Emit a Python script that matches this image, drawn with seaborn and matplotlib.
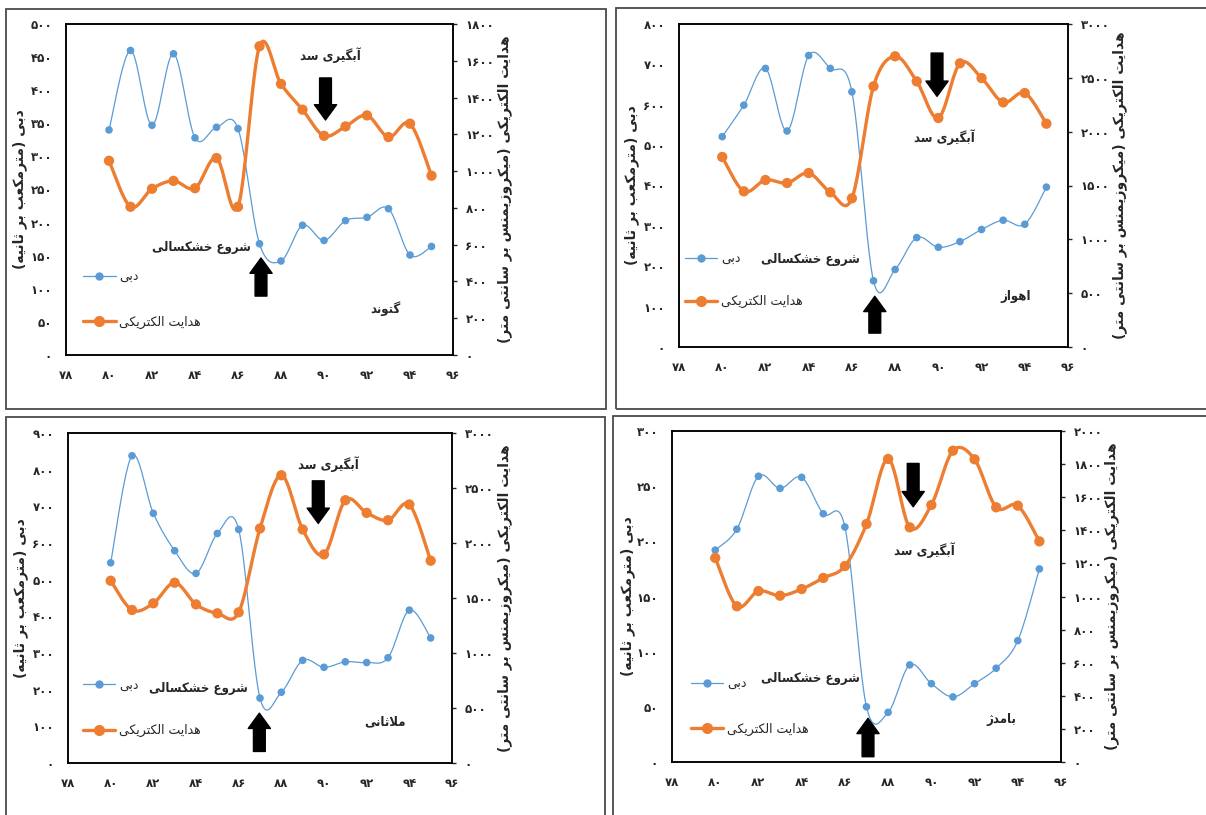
import numpy as np
import pandas as pd
import matplotlib
matplotlib.use("Agg")
import matplotlib.pyplot as plt
from matplotlib.patches import Rectangle
from matplotlib.lines import Line2D
from matplotlib import font_manager
import seaborn as sns

# ---------------- data ----------------
years = [80, 81, 82, 83, 84, 85, 86, 87, 88, 89, 90, 91, 92, 93, 94, 95]

gotvand_q = [340, 460, 347, 455, 328, 344, 342, 168, 142, 196, 173, 203, 208, 221, 151, 164]
gotvand_ec = [1056, 806, 904, 947, 907, 1071, 806, 1679, 1474, 1334, 1192, 1243, 1303, 1185, 1258, 975]

ahvaz_q = [521, 599, 690, 535, 722, 690, 632, 164, 192, 271, 247, 261, 291, 314, 304, 396]
ahvaz_ec = [1765, 1446, 1551, 1523, 1616, 1437, 1381, 2421, 2700, 2467, 2127, 2635, 2498, 2272, 2359, 2074]

mollasani_q = [546, 838, 681, 579, 517, 626, 637, 177, 193, 280, 261, 276, 274, 287, 417, 341]
mollasani_ec = [1657, 1391, 1452, 1639, 1442, 1361, 1370, 2132, 2616, 2123, 1896, 2389, 2274, 2207, 2350, 1839]

bamdezh_q = [192, 211, 259, 248, 258, 225, 213, 50, 45, 88, 71, 59, 71, 85, 110, 175]
bamdezh_ec = [1233, 941, 1033, 1005, 1045, 1112, 1184, 1438, 1831, 1418, 1553, 1881, 1829, 1539, 1549, 1333]

x_ticks = [78, 80, 82, 84, 86, 88, 90, 92, 94, 96]
gotvand_q_ticks = [0, 50, 100, 150, 200, 250, 300, 350, 400, 450, 500]
gotvand_ec_ticks = [0, 200, 400, 600, 800, 1000, 1200, 1400, 1600, 1800]
ahvaz_q_ticks = [0, 100, 200, 300, 400, 500, 600, 700, 800]
ahvaz_ec_ticks = [0, 500, 1000, 1500, 2000, 2500, 3000]
mollasani_q_ticks = [0, 100, 200, 300, 400, 500, 600, 700, 800, 900]
mollasani_ec_ticks = [0, 500, 1000, 1500, 2000, 2500, 3000]
bamdezh_q_ticks = [0, 50, 100, 150, 200, 250, 300]
bamdezh_ec_ticks = [0, 200, 400, 600, 800, 1000, 1200, 1400, 1600, 1800, 2000]

label_q = "دبی"
label_ec = "هدایت الکتریکی"
ylabel_left = "دبی (مترمکعب بر ثانیه)"
ylabel_right = "هدایت الکتریکی (میکروزیمنس بر سانتی متر)"
txt_drought = "شروع خشکسالی"
txt_dam = "آبگیری سد"
stations = ["گتوند", "اهواز", "ملاثانی", "بامدژ"]

# ---------------- Arabic/Persian shaping helpers ----------------
FORMS = {
    '\u0627': ('\uFE8D', '\uFE8E', None, None),
    '\u0622': ('\uFE81', '\uFE82', None, None),
    '\u0628': ('\uFE8F', '\uFE90', '\uFE91', '\uFE92'),
    '\u062A': ('\uFE95', '\uFE96', '\uFE97', '\uFE98'),
    '\u062B': ('\uFE99', '\uFE9A', '\uFE9B', '\uFE9C'),
    '\u062E': ('\uFEA5', '\uFEA6', '\uFEA7', '\uFEA8'),
    '\u062F': ('\uFEA9', '\uFEAA', None, None),
    '\u0631': ('\uFEAD', '\uFEAE', None, None),
    '\u0632': ('\uFEAF', '\uFEB0', None, None),
    '\u0698': ('\uFB8A', '\uFB8B', None, None),
    '\u0633': ('\uFEB1', '\uFEB2', '\uFEB3', '\uFEB4'),
    '\u0634': ('\uFEB5', '\uFEB6', '\uFEB7', '\uFEB8'),
    '\u0639': ('\uFEC9', '\uFECA', '\uFECB', '\uFECC'),
    '\u0644': ('\uFEDD', '\uFEDE', '\uFEDF', '\uFEE0'),
    '\u0645': ('\uFEE1', '\uFEE2', '\uFEE3', '\uFEE4'),
    '\u0646': ('\uFEE5', '\uFEE6', '\uFEE7', '\uFEE8'),
    '\u0647': ('\uFEE9', '\uFEEA', '\uFEEB', '\uFEEC'),
    '\u0648': ('\uFEED', '\uFEEE', None, None),
    '\u06A9': ('\uFB8E', '\uFB8F', '\uFB90', '\uFB91'),
    '\u06AF': ('\uFB92', '\uFB93', '\uFB94', '\uFB95'),
    '\u06CC': ('\uFBFC', '\uFBFD', '\uFBFE', '\uFBFF'),
}


def shape(s):
    tokens = []
    i = 0
    while i < len(s):
        c = s[i]
        if c == '\u0644' and i + 1 < len(s) and s[i + 1] in ('\u0627', '\u0622'):
            tokens.append('LA' if s[i + 1] == '\u0627' else 'LAM')
            i += 2
        else:
            tokens.append(c)
            i += 1

    def joins_next(t):
        return t in FORMS and FORMS[t][2] is not None

    def is_ar(t):
        return t in FORMS or t in ('LA', 'LAM')

    res = []
    for k, t in enumerate(tokens):
        prev = tokens[k - 1] if k > 0 else None
        nxt = tokens[k + 1] if k + 1 < len(tokens) else None
        cp = prev is not None and joins_next(prev)
        if t in ('LA', 'LAM'):
            iso, fin = ('\uFEFB', '\uFEFC') if t == 'LA' else ('\uFEF5', '\uFEF6')
            res.append(fin if cp else iso)
            continue
        if t not in FORMS:
            res.append(t)
            continue
        cn = joins_next(t) and nxt is not None and is_ar(nxt)
        f = FORMS[t]
        if cp and cn:
            res.append(f[3])
        elif cp:
            res.append(f[1])
        elif cn:
            res.append(f[2])
        else:
            res.append(f[0])
    return ''.join(res)


def fa(s):
    return shape(s)[::-1].translate({ord('('): ')', ord(')'): '('})


def fa_num(n):
    return str(n).translate(str.maketrans('0123456789', '۰۱۲۳۴۵۶۷۸۹'))


def smooth(x, y, n=24):
    x = np.asarray(x, float)
    y = np.asarray(y, float)
    px = np.concatenate([[x[0]], x, [x[-1]]])
    py = np.concatenate([[y[0]], y, [y[-1]]])
    t = np.linspace(0, 1, n, endpoint=False)
    xs, ys = [], []
    for i in range(1, len(px) - 2):
        for arr, out in ((px, xs), (py, ys)):
            p0, p1, p2, p3 = arr[i - 1], arr[i], arr[i + 1], arr[i + 2]
            out.extend(0.5 * ((2 * p1) + (-p0 + p2) * t
                              + (2 * p0 - 5 * p1 + 4 * p2 - p3) * t ** 2
                              + (-p0 + 3 * p1 - 3 * p2 + p3) * t ** 3))
    xs.append(x[-1])
    ys.append(y[-1])
    return np.array(xs), np.array(ys)


# ---------------- style ----------------
sns.set_style("white")
plt.rcParams['font.family'] = ['DejaVu Sans']

has_cond = any('condensed' in f.fname.lower() and 'dejavusans' in f.fname.lower().replace('-', '').replace('_', '')
               for f in font_manager.fontManager.ttflist)
ANN = dict(family='DejaVu Sans', stretch='condensed', fontweight='bold',
           fontsize=(11 if has_cond else 9.5) * 0.86)

BLUE = '#5B9BD5'
ORANGE = '#ED7D31'
W, H = 1206, 815

fig = plt.figure(figsize=(W / 100, H / 100), dpi=100)


def fig_rect(l, t, r, b):
    return [l / W, 1 - b / H, (r - l) / W, (b - t) / H]


panels = [
    dict(rect=fig_rect(66, 24, 453, 355), q=gotvand_q, ec=gotvand_ec,
         qt=gotvand_q_ticks, et=gotvand_ec_ticks, name=stations[0],
         up=(87.07, 0.293, 0.178), down=(90.07, 0.71, 0.837),
         dam=(90.3, 0.906), dr=(86.6, 0.326), st=(92.84, 0.139),
         leg=(0.044, 0.236, 0.10), box=(6, 9, 606, 409),
         ylx=20, yrx=505),
    dict(rect=fig_rect(679, 24, 1068, 347), q=ahvaz_q, ec=ahvaz_ec,
         qt=ahvaz_q_ticks, et=ahvaz_ec_ticks, name=stations[1],
         up=(87.06, 0.157, 0.043), down=(89.94, 0.776, 0.91),
         dam=(90.3, 0.65), dr=(86.38, 0.272), st=(93.6, 0.155),
         leg=(0.015, 0.272, 0.141), box=(616, 8, 1215, 409),
         ylx=632, yrx=1120),
    dict(rect=fig_rect(68, 433, 452, 763), q=mollasani_q, ec=mollasani_ec,
         qt=mollasani_q_ticks, et=mollasani_ec_ticks, name=stations[2],
         up=(86.97, 0.151, 0.035), down=(89.73, 0.726, 0.855),
         dam=(90.2, 0.907), dr=(86.45, 0.227), st=(92.85, 0.126),
         leg=(0.039, 0.235, 0.099), box=(6, 417, 605, 825),
         ylx=21, yrx=505),
    dict(rect=fig_rect(672, 431, 1061, 762), q=bamdezh_q, ec=bamdezh_ec,
         qt=bamdezh_q_ticks, et=bamdezh_ec_ticks, name=stations[3],
         up=(87.07, 0.132, 0.016), down=(89.16, 0.771, 0.902),
         dam=(89.67, 0.64), dr=(86.69, 0.253), st=(93.25, 0.127),
         leg=(0.048, 0.236, 0.10), box=(613, 416, 1215, 825),
         ylx=628, yrx=1112),
]

arrow_style = 'simple,head_width=1.6,head_length=1.1,tail_width=0.85'

for p in panels:
    l, t, r, b = p['box']
    fig.add_artist(Rectangle((l / W, 1 - b / H), (r - l) / W, (b - t) / H,
                             transform=fig.transFigure, fill=False,
                             ec='#4a4a4a', lw=1.3, zorder=0))

    ax = fig.add_axes(p['rect'])
    ax2 = ax.twinx()

    df_q = pd.DataFrame({'year': years, 'value': p['q']})
    df_e = pd.DataFrame({'year': years, 'value': p['ec']})
    sx, sy = smooth(df_q['year'], df_q['value'])
    ex, ey = smooth(df_e['year'], df_e['value'])

    sns.lineplot(x=sx, y=sy, ax=ax, color=BLUE, lw=0.9, sort=False,
                 estimator=None, zorder=3)
    sns.scatterplot(data=df_q, x='year', y='value', ax=ax, color=BLUE,
                    s=30, edgecolor='none', zorder=4)
    sns.lineplot(x=ex, y=ey, ax=ax2, color=ORANGE, lw=2.4, sort=False,
                 estimator=None, zorder=3)
    sns.scatterplot(data=df_e, x='year', y='value', ax=ax2, color=ORANGE,
                    s=55, edgecolor='none', zorder=4)

    ax.set_xlim(78, 96)
    ax.set_ylim(p['qt'][0], p['qt'][-1])
    ax2.set_ylim(p['et'][0], p['et'][-1])
    ax.set_xticks(x_ticks)
    ax.set_xticklabels([fa_num(v) for v in x_ticks], fontsize=8.5, fontweight='bold')
    ax.set_yticks(p['qt'])
    ax.set_yticklabels([fa_num(v) for v in p['qt']], fontsize=8.5, fontweight='bold')
    ax2.set_yticks(p['et'])
    ax2.set_yticklabels([fa_num(v) for v in p['et']], fontsize=8.5, fontweight='bold')
    ax.tick_params(axis='x', length=0, pad=10)
    ax.tick_params(axis='y', length=0, pad=10)
    ax2.tick_params(axis='y', length=3, width=1, pad=6, direction='out')
    ax.set_xlabel('')
    ax.set_ylabel('')
    ax2.set_ylabel('')
    for a in (ax, ax2):
        for s in a.spines.values():
            s.set_color('black')
            s.set_linewidth(1.1)
        a.patch.set_visible(False)

    # axis titles
    x0, y0, w0, h0 = p['rect']
    fig.text(p['ylx'] / W, y0 + h0 / 2, fa(ylabel_left), rotation=90,
             ha='center', va='center', fontsize=10, fontweight='bold')
    fig.text(p['yrx'] / W, y0 + h0 / 2, fa(ylabel_right), rotation=90,
             ha='center', va='center', fontsize=10, fontweight='bold')

    # arrows
    ux, utip, utail = p['up']
    ax2.annotate('', xy=(ux, utip), xytext=(ux, utail),
                 xycoords=('data', 'axes fraction'),
                 textcoords=('data', 'axes fraction'),
                 arrowprops=dict(arrowstyle=arrow_style, fc='black', ec='black',
                                 mutation_scale=10, shrinkA=0, shrinkB=0))
    dx, dtip, dtail = p['down']
    ax2.annotate('', xy=(dx, dtip), xytext=(dx, dtail),
                 xycoords=('data', 'axes fraction'),
                 textcoords=('data', 'axes fraction'),
                 arrowprops=dict(arrowstyle=arrow_style, fc='black', ec='black',
                                 mutation_scale=10, shrinkA=0, shrinkB=0))

    trans = ax2.get_xaxis_transform()
    ax2.text(p['dam'][0], p['dam'][1], fa(txt_dam), transform=trans,
             ha='center', va='center', **ANN)
    ax2.text(p['dr'][0], p['dr'][1], fa(txt_drought), transform=trans,
             ha='right', va='center', **ANN)
    ax2.text(p['st'][0], p['st'][1], fa(p['name']), transform=trans,
             ha='center', va='center', **ANN)

    # legend
    lx, ly1, ly2 = p['leg']
    h_q = Line2D([], [], color=BLUE, lw=0.9, marker='o', ms=6, mec='none')
    h_e = Line2D([], [], color=ORANGE, lw=2.4, marker='o', ms=8, mec='none')
    spacing_frac = ly1 - ly2
    fs = 9
    ax2.legend([h_q, h_e], [fa(label_q), fa(label_ec)], loc='center left',
               bbox_to_anchor=(lx, (ly1 + ly2) / 2), frameon=False,
               fontsize=fs, handlelength=2.6, handletextpad=0.3,
               borderpad=0, borderaxespad=0,
               labelspacing=spacing_frac * p['rect'][3] * H / (fs * 1.389) - 1.0)

fig.savefig('out.png', dpi=100)
